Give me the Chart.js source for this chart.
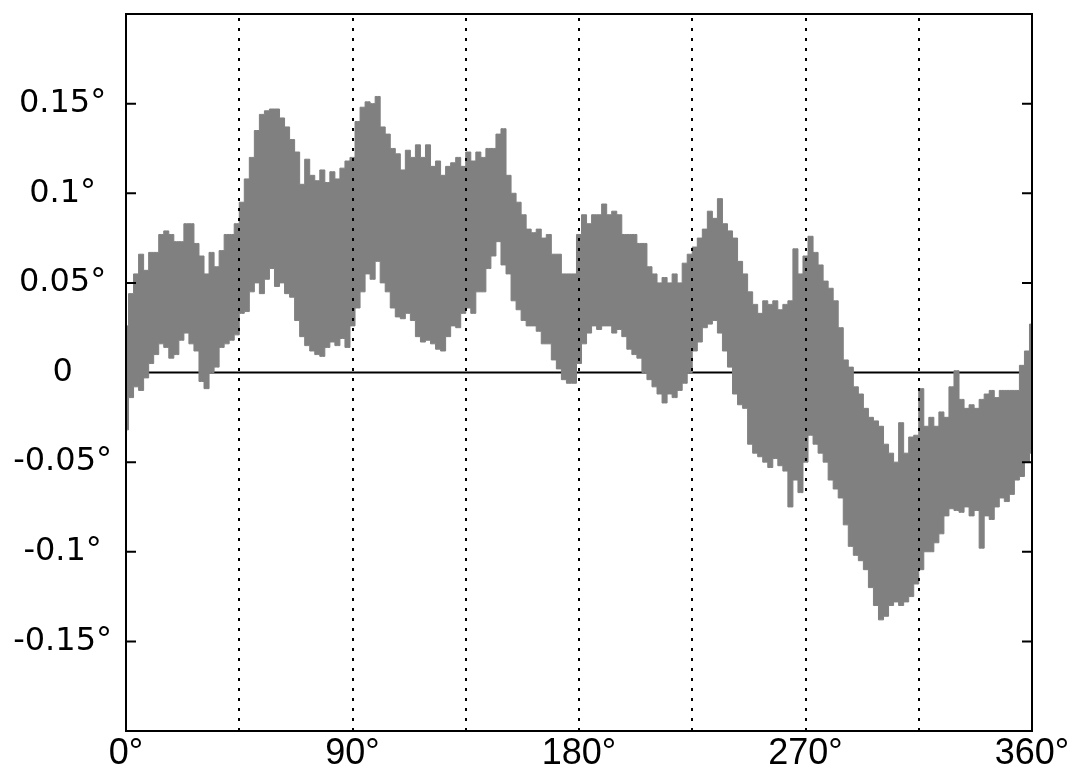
<!DOCTYPE html>
<html lang="en">
<head>
    <meta charset="UTF-8">
    <title>Angle error</title>
    <script src="https://cdn.jsdelivr.net/npm/chart.js"></script>
    <style>
        body { margin: 0; background: #fff; }
        #wrap { width: 1073px; height: 771px; position: relative; }
    </style>
</head>
<body>
<div id="wrap"><canvas id="errChart"></canvas></div>
<script>
// angle (deg) at every 2 degrees
const angles = [
    0, 2, 4, 6, 8, 10, 12, 14, 16, 18, 20, 22, 24, 26, 28, 30, 32, 34, 36, 38,
    40, 42, 44, 46, 48, 50, 52, 54, 56, 58, 60, 62, 64, 66, 68, 70, 72, 74, 76, 78,
    80, 82, 84, 86, 88, 90, 92, 94, 96, 98, 100, 102, 104, 106, 108, 110, 112, 114, 116, 118,
    120, 122, 124, 126, 128, 130, 132, 134, 136, 138, 140, 142, 144, 146, 148, 150, 152, 154, 156, 158,
    160, 162, 164, 166, 168, 170, 172, 174, 176, 178, 180, 182, 184, 186, 188, 190, 192, 194, 196, 198,
    200, 202, 204, 206, 208, 210, 212, 214, 216, 218, 220, 222, 224, 226, 228, 230, 232, 234, 236, 238,
    240, 242, 244, 246, 248, 250, 252, 254, 256, 258, 260, 262, 264, 266, 268, 270, 272, 274, 276, 278,
    280, 282, 284, 286, 288, 290, 292, 294, 296, 298, 300, 302, 304, 306, 308, 310, 312, 314, 316, 318,
    320, 322, 324, 326, 328, 330, 332, 334, 336, 338, 340, 342, 344, 346, 348, 350, 352, 354, 356, 358,
    360
];

// top of the noise band (deg)
const upperErr = [
    0.026, 0.044, 0.055, 0.066, 0.057, 0.067, 0.067, 0.077, 0.079, 0.077, 0.073, 0.073, 0.083, 0.083, 0.072, 0.065, 0.055, 0.067, 0.059, 0.068,
    0.077, 0.077, 0.083, 0.095, 0.108, 0.120, 0.135, 0.144, 0.146, 0.147, 0.147, 0.142, 0.137, 0.130, 0.123, 0.105, 0.119, 0.110, 0.107, 0.113,
    0.106, 0.112, 0.108, 0.114, 0.118, 0.120, 0.140, 0.148, 0.151, 0.150, 0.154, 0.137, 0.133, 0.125, 0.122, 0.113, 0.124, 0.120, 0.127, 0.120,
    0.127, 0.115, 0.118, 0.110, 0.115, 0.117, 0.120, 0.115, 0.123, 0.118, 0.123, 0.120, 0.125, 0.125, 0.133, 0.136, 0.110, 0.100, 0.095, 0.088,
    0.080, 0.078, 0.080, 0.075, 0.077, 0.066, 0.066, 0.055, 0.055, 0.055, 0.077, 0.088, 0.083, 0.088, 0.088, 0.094, 0.088, 0.090, 0.088, 0.077,
    0.077, 0.077, 0.072, 0.072, 0.059, 0.055, 0.050, 0.053, 0.050, 0.055, 0.050, 0.061, 0.066, 0.070, 0.075, 0.080, 0.090, 0.086, 0.097, 0.083,
    0.079, 0.075, 0.062, 0.055, 0.045, 0.038, 0.033, 0.040, 0.038, 0.040, 0.035, 0.038, 0.040, 0.069, 0.055, 0.065, 0.076, 0.067, 0.060, 0.051,
    0.047, 0.040, 0.025, 0.007, 0.003, -0.008, -0.012, -0.020, -0.025, -0.027, -0.030, -0.040, -0.045, -0.050, -0.028, -0.045, -0.036, -0.035, -0.009, -0.030,
    -0.025, -0.030, -0.022, -0.025, -0.008, 0.001, -0.015, -0.020, -0.018, -0.020, -0.015, -0.012, -0.010, -0.014, -0.010, -0.010, -0.010, -0.010, 0.004, 0.012,
    0.027
];

// bottom of the noise band (deg)
const lowerErr = [
    -0.032, -0.014, -0.008, -0.010, -0.003, 0.005, 0.010, 0.016, 0.014, 0.008, 0.010, 0.018, 0.022, 0.016, 0.012, -0.005, -0.009, 0.000, 0.003, 0.014,
    0.016, 0.018, 0.021, 0.033, 0.034, 0.045, 0.050, 0.044, 0.052, 0.058, 0.048, 0.050, 0.044, 0.042, 0.029, 0.020, 0.015, 0.012, 0.010, 0.009,
    0.014, 0.017, 0.015, 0.019, 0.014, 0.026, 0.036, 0.045, 0.055, 0.052, 0.062, 0.050, 0.045, 0.036, 0.031, 0.030, 0.033, 0.029, 0.020, 0.017,
    0.018, 0.016, 0.013, 0.012, 0.020, 0.026, 0.025, 0.033, 0.036, 0.033, 0.045, 0.045, 0.058, 0.065, 0.073, 0.060, 0.055, 0.040, 0.035, 0.029,
    0.026, 0.026, 0.023, 0.016, 0.016, 0.007, 0.002, -0.004, -0.006, -0.006, 0.005, 0.016, 0.022, 0.026, 0.024, 0.026, 0.026, 0.022, 0.024, 0.020,
    0.013, 0.010, 0.008, 0.000, -0.004, -0.008, -0.012, -0.017, -0.012, -0.014, -0.010, -0.006, 0.000, 0.012, 0.017, 0.025, 0.027, 0.029, 0.022, 0.012,
    0.003, -0.012, -0.018, -0.020, -0.040, -0.045, -0.047, -0.050, -0.053, -0.048, -0.052, -0.055, -0.075, -0.060, -0.067, -0.050, -0.035, -0.040, -0.045, -0.050,
    -0.060, -0.065, -0.070, -0.085, -0.097, -0.102, -0.105, -0.110, -0.120, -0.130, -0.138, -0.136, -0.130, -0.128, -0.130, -0.128, -0.125, -0.118, -0.110, -0.100,
    -0.100, -0.095, -0.090, -0.080, -0.076, -0.077, -0.078, -0.075, -0.080, -0.077, -0.098, -0.080, -0.082, -0.075, -0.070, -0.072, -0.068, -0.060, -0.058, -0.050,
    -0.045
];

const yTicks = [-0.15, -0.1, -0.05, 0, 0.05, 0.1, 0.15];
const xTicks = [0, 90, 180, 270, 360];
const xGuides = [45, 90, 135, 180, 225, 270, 315];

const bandColor = '#808080';

// frame, zero line, dotted guides and inward ticks
const framePlugin = {
    id: 'frame',
    beforeDatasetsDraw(chart) {
        const { ctx, chartArea: a, scales: { y } } = chart;
        ctx.save();
        ctx.strokeStyle = '#000';
        ctx.lineWidth = 2;
        const y0 = y.getPixelForValue(0);
        ctx.beginPath();
        ctx.moveTo(a.left, y0);
        ctx.lineTo(a.right, y0);
        ctx.stroke();
        ctx.restore();
    },
    afterDatasetsDraw(chart) {
        const { ctx, chartArea: a, scales: { x, y } } = chart;
        ctx.save();
        ctx.strokeStyle = '#000';
        ctx.lineWidth = 2;
        ctx.setLineDash([3, 7]);
        xGuides.forEach(g => {
            const px = Math.round(x.getPixelForValue(g));
            ctx.beginPath();
            ctx.moveTo(px, a.top + 4);
            ctx.lineTo(px, a.bottom);
            ctx.stroke();
        });
        ctx.setLineDash([]);
        ctx.lineWidth = 2;
        ctx.strokeRect(a.left, a.top, a.right - a.left, a.bottom - a.top);
        yTicks.forEach(v => {
            if (v === 0) return;
            const py = y.getPixelForValue(v);
            ctx.beginPath();
            ctx.moveTo(a.left, py);
            ctx.lineTo(a.left + 10, py);
            ctx.moveTo(a.right, py);
            ctx.lineTo(a.right - 10, py);
            ctx.stroke();
        });
        ctx.restore();
    }
};

const ctx = document.getElementById('errChart').getContext('2d');
const errChart = new Chart(ctx, {
    type: 'line',
    data: {
        labels: angles,
        datasets: [
            {
                label: 'lower',
                data: angles.map((a, i) => ({ x: a, y: lowerErr[i] })),
                borderColor: bandColor,
                borderWidth: 1,
                pointRadius: 0,
                stepped: 'middle',
                fill: false
            },
            {
                label: 'upper',
                data: angles.map((a, i) => ({ x: a, y: upperErr[i] })),
                borderColor: bandColor,
                borderWidth: 1,
                backgroundColor: bandColor,
                pointRadius: 0,
                stepped: 'middle',
                fill: '-1'
            }
        ]
    },
    options: {
        responsive: true,
        maintainAspectRatio: false,
        animation: false,
        layout: { padding: { top: 14, right: 41, left: 0, bottom: 0 } },
        plugins: {
            legend: { display: false },
            tooltip: { enabled: false }
        },
        scales: {
            x: {
                type: 'linear',
                min: 0,
                max: 360,
                afterBuildTicks: s => { s.ticks = xTicks.map(v => ({ value: v })); },
                afterFit: s => { s.height = 40; s.paddingLeft = 0; s.paddingRight = 0; },
                grid: { display: false, drawTicks: false },
                border: { display: false },
                ticks: {
                    padding: 1,
                    color: '#000',
                    font: { family: "'Liberation Sans', Arial, sans-serif", size: 36 },
                    maxRotation: 0,
                    callback: v => v + '\u00b0'
                }
            },
            y: {
                min: -0.2,
                max: 0.2,
                afterBuildTicks: s => { s.ticks = yTicks.map(v => ({ value: v })); },
                afterFit: s => { s.width = 126; s.paddingTop = 0; s.paddingBottom = 0; },
                grid: { display: false, drawTicks: false },
                border: { display: false },
                ticks: {
                    padding: 14,
                    crossAlign: 'center',
                    color: '#000',
                    font: { family: "'DejaVu Sans', sans-serif", size: 32 },
                    callback: v => v === 0 ? '0' : (Math.round(v * 100) / 100) + '\u00b0'
                }
            }
        }
    },
    plugins: [framePlugin]
});
</script>
</body>
</html>
